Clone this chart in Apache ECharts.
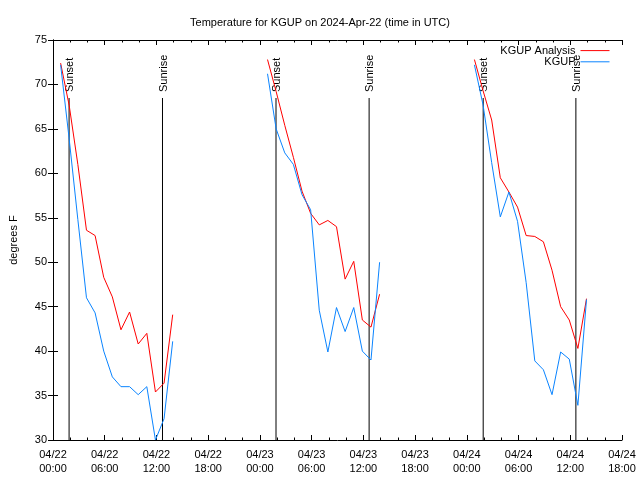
<!DOCTYPE html>
<html><head><meta charset="utf-8">
<script src="https://cdn.jsdelivr.net/npm/echarts@6/dist/echarts.min.js"></script>
<style>html,body{margin:0;padding:0;background:#fff}#c{width:640px;height:480px}</style>
</head><body><div id="c"></div>
<script>
const chartTitle = 'Temperature for KGUP on 2024-Apr-22 (time in UTC)';
const yAxisName = 'degrees F';
const seriesNames = ['KGUP Analysis', 'KGUP'];
const xTickLabels = ['04/22\n00:00','04/22\n06:00','04/22\n12:00','04/22\n18:00',
  '04/23\n00:00','04/23\n06:00','04/23\n12:00','04/23\n18:00',
  '04/24\n00:00','04/24\n06:00','04/24\n12:00','04/24\n18:00'];

const day1Times = ['04/22 00:53','04/22 01:53','04/22 02:53','04/22 03:53','04/22 04:53','04/22 05:53','04/22 06:53',
  '04/22 07:53','04/22 08:53','04/22 09:53','04/22 10:53','04/22 11:53','04/22 12:53','04/22 13:53'];
const day2Times = ['04/23 00:53','04/23 01:53','04/23 02:53','04/23 03:53','04/23 04:53','04/23 05:53','04/23 06:53',
  '04/23 07:53','04/23 08:53','04/23 09:53','04/23 10:53','04/23 11:53','04/23 12:53','04/23 13:53'];
const day3Times = ['04/24 00:53','04/24 01:53','04/24 02:53','04/24 03:53','04/24 04:53','04/24 05:53','04/24 06:53',
  '04/24 07:53','04/24 08:53','04/24 09:53','04/24 10:53','04/24 11:53','04/24 12:53','04/24 13:53'];

const analysisDay1 = [72.4, 67.6, 61.0, 53.6, 53.0, 48.3, 46.1, 42.4, 44.4, 40.8, 42.0, 35.4, 36.4, 44.1];
const analysisDay2 = [72.8, 69.2, 65.4, 61.8, 58.0, 55.5, 54.2, 54.7, 54.0, 48.1, 50.1, 43.5, 42.7, 46.4];
const analysisDay3 = [72.8, 69.3, 66.0, 59.5, 57.9, 56.2, 53.0, 52.9, 52.3, 49.1, 45.0, 43.5, 40.3, 45.9];

const obsDay1 = [72.2, 63.8, 54.8, 46.0, 44.3, 40.0, 37.1, 36.0, 36.0, 35.1, 36.0, 30.0, 32.4, 41.1];
const obsDay2 = [71.2, 65.0, 62.3, 61.0, 57.6, 55.9, 44.6, 39.9, 44.9, 42.2, 44.9, 40.0, 39.0, 50.0];
const obsDay3 = [72.2, 67.7, 61.2, 55.1, 57.9, 54.6, 47.7, 38.9, 37.9, 35.1, 39.9, 39.1, 33.9, 45.8];

const sunEvents = ['04/22 01:52','04/22 12:42','04/23 01:52','04/23 12:40','04/24 01:54','04/24 12:39'];
const sunLabels = ['Sunset','Sunrise','Sunset','Sunrise','Sunset','Sunrise'];

function toHours(s){
  const m = s.match(/(\d+)\/(\d+) (\d+):(\d+)/);
  return (parseInt(m[2]) - 22) * 24 + parseInt(m[3]) + parseInt(m[4]) / 60;
}
function pairs(times, vals){ return times.map((t,i)=>[toHours(t), vals[i]]); }

const FONT = 'Liberation Sans';
const RED = '#ff0000', BLUE = '#0a84ff';

const chart = echarts.init(document.getElementById('c'), null, {renderer:'canvas'});

function lineSeries(name, color, data){
  return {type:'line', name:name, data:data, showSymbol:false, symbol:'none',
    lineStyle:{color:color, width:1}, itemStyle:{color:color}, animation:false, z:3};
}

const axisCommon = {
  axisLine:{lineStyle:{color:'#000', width:1}},
  splitLine:{show:false}
};

chart.setOption({
  animation:false,
  backgroundColor:'#fff',
  title:{text:chartTitle, left:'center', top:12,
    textStyle:{fontFamily:FONT, fontSize:11, fontWeight:'normal', color:'#000'}},
  legend:{data:seriesNames, orient:'vertical', right:30, top:45, align:'right', padding:0,
    itemWidth:29, itemHeight:14, itemGap:0,
    itemStyle:{opacity:0, borderWidth:0},
    lineStyle:{width:1},
    textStyle:{fontFamily:FONT, fontSize:11, color:'#000', padding:[0,0,0,0]}},
  grid:{left:46, right:18, top:40, bottom:40, containLabel:false},
  xAxis:[
    Object.assign({type:'value', min:0, max:66, interval:6, position:'bottom',
      axisTick:{inside:true, length:5, lineStyle:{color:'#000'}},
      minorTick:{show:true, splitNumber:3, length:2.5, lineStyle:{color:'#000'}},
      axisLabel:{fontFamily:FONT, fontSize:11, color:'#000', lineHeight:14, margin:8,
        formatter:(v)=> xTickLabels[Math.round(v/6)]}}, axisCommon),
    Object.assign({type:'value', min:0, max:66, interval:6, position:'top',
      axisTick:{inside:true, length:5, lineStyle:{color:'#000'}},
      minorTick:{show:true, splitNumber:3, length:2.5, lineStyle:{color:'#000'}},
      axisLabel:{show:false}}, axisCommon)
  ],
  yAxis:[
    Object.assign({type:'value', min:30, max:75, interval:5, position:'left',
      name:yAxisName, nameLocation:'middle', nameRotate:90, nameGap:34,
      nameTextStyle:{fontFamily:FONT, fontSize:11, color:'#000'},
      axisTick:{inside:true, length:5, lineStyle:{color:'#000'}},
      axisLabel:{fontFamily:FONT, fontSize:11, color:'#000', margin:6}}, axisCommon),
    Object.assign({type:'value', min:30, max:75, interval:5, position:'right',
      axisTick:{inside:true, length:5, lineStyle:{color:'#000'}},
      axisLabel:{show:false}}, axisCommon)
  ],
  series:[
    lineSeries(seriesNames[0], RED, pairs(day1Times, analysisDay1)),
    lineSeries(seriesNames[0], RED, pairs(day2Times, analysisDay2)),
    lineSeries(seriesNames[0], RED, pairs(day3Times, analysisDay3)),
    lineSeries(seriesNames[1], BLUE, pairs(day1Times, obsDay1)),
    lineSeries(seriesNames[1], BLUE, pairs(day2Times, obsDay2)),
    lineSeries(seriesNames[1], BLUE, pairs(day3Times, obsDay3)),
    {type:'custom', name:'sun', silent:true, z:2, animation:false,
      data: sunEvents.map((t,i)=>[toHours(t), i]),
      renderItem:function(params, api){
        const x = api.value(0);
        const i = api.value(1);
        const bottom = api.coord([x, 30]);
        const top = api.coord([x, 75]);
        return {type:'group', children:[
          {type:'line', shape:{x1:bottom[0], y1:top[1]+58, x2:bottom[0], y2:bottom[1]},
            style:{stroke:'#000', lineWidth:1}},
          {type:'text', x:bottom[0]+1, y:top[1]+52, rotation:Math.PI/2,
            style:{text:sunLabels[i], fontFamily:FONT, fontSize:11, fill:'#000',
              textAlign:'left', textVerticalAlign:'middle', verticalAlign:'middle'}}
        ]};
      }}
  ]
});
</script></body></html>
